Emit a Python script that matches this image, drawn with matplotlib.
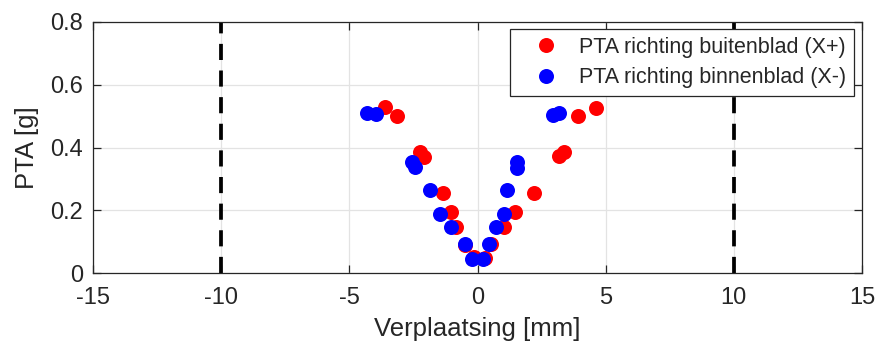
import matplotlib
matplotlib.use("Agg")
import matplotlib.pyplot as plt

plt.rcParams['font.family'] = ['Liberation Sans', 'DejaVu Sans']

# Peak table acceleration versus displacement, per loading direction
red_x = [-3.59, -3.13, -2.23, -2.07, -1.33, -1.05, -0.82, -0.50, -0.15,
         0.31, 0.51, 1.02, 1.48, 2.19, 3.16, 3.36, 3.91, 4.61]
red_y = [0.529, 0.500, 0.386, 0.370, 0.255, 0.194, 0.147, 0.090, 0.050,
         0.048, 0.092, 0.147, 0.194, 0.255, 0.373, 0.386, 0.500, 0.526]

blue_x = [-4.30, -3.95, -2.54, -2.42, -1.84, -1.45, -1.05, -0.47, -0.20,
          0.20, 0.43, 0.74, 1.02, 1.17, 1.56, 1.56, 2.93, 3.16]
blue_y = [0.510, 0.507, 0.354, 0.338, 0.265, 0.188, 0.147, 0.092, 0.045,
          0.045, 0.092, 0.147, 0.188, 0.265, 0.354, 0.335, 0.504, 0.510]

limit_x = [-10, 10]

x_ticks = [-15, -10, -5, 0, 5, 10, 15]
y_ticks = [0, 0.2, 0.4, 0.6, 0.8]
y_tick_labels = ['0', '0.2', '0.4', '0.6', '0.8']

label_red = 'PTA richting buitenblad (X+)'
label_blue = 'PTA richting binnenblad (X-)'

fig = plt.figure(figsize=(8.82, 3.51), dpi=100)
ax = fig.add_axes([93 / 882, 1 - 273 / 351, 769 / 882, 251 / 351])

dark = '#262626'

for xv in limit_x:
    ax.axvline(xv, color='black', lw=2.7, dashes=(4.3, 2.8), zorder=2)

ax.plot(red_x, red_y, 'o', color='#ff0000', markersize=10.8,
        markeredgewidth=0, label=label_red, zorder=3)
ax.plot(blue_x, blue_y, 'o', color='#0000ff', markersize=10.8,
        markeredgewidth=0, label=label_blue, zorder=4)

ax.set_xlim(-15, 15)
ax.set_ylim(0, 0.8)
ax.set_xticks(x_ticks)
ax.set_xticklabels([str(t) for t in x_ticks])
ax.set_yticks(y_ticks)
ax.set_yticklabels(y_tick_labels)

ax.grid(True, color='#e3e3e3', lw=0.9, zorder=0)
ax.set_axisbelow(True)

ax.tick_params(direction='in', length=5.5, width=0.9, colors=dark,
               labelsize=17, top=True, right=True)
ax.tick_params(axis='x', pad=10)
ax.tick_params(axis='y', pad=7)
for s in ax.spines.values():
    s.set_color(dark)
    s.set_linewidth(0.9)

ax.set_xlabel('Verplaatsing [mm]', fontsize=18.5, color=dark, labelpad=6)
ax.set_ylabel('PTA [g]', fontsize=18.5, color=dark, labelpad=8)

leg = ax.legend(loc='upper right', bbox_to_anchor=(0.9896, 0.972),
                borderaxespad=0, fontsize=15.5, frameon=True, fancybox=False,
                framealpha=1, edgecolor=dark, handlelength=2.6,
                handletextpad=0.25, labelspacing=0.45, borderpad=0.35)
leg.get_frame().set_linewidth(0.9)
for t in leg.get_texts():
    t.set_color(dark)

fig.savefig('out.png', dpi=100)
